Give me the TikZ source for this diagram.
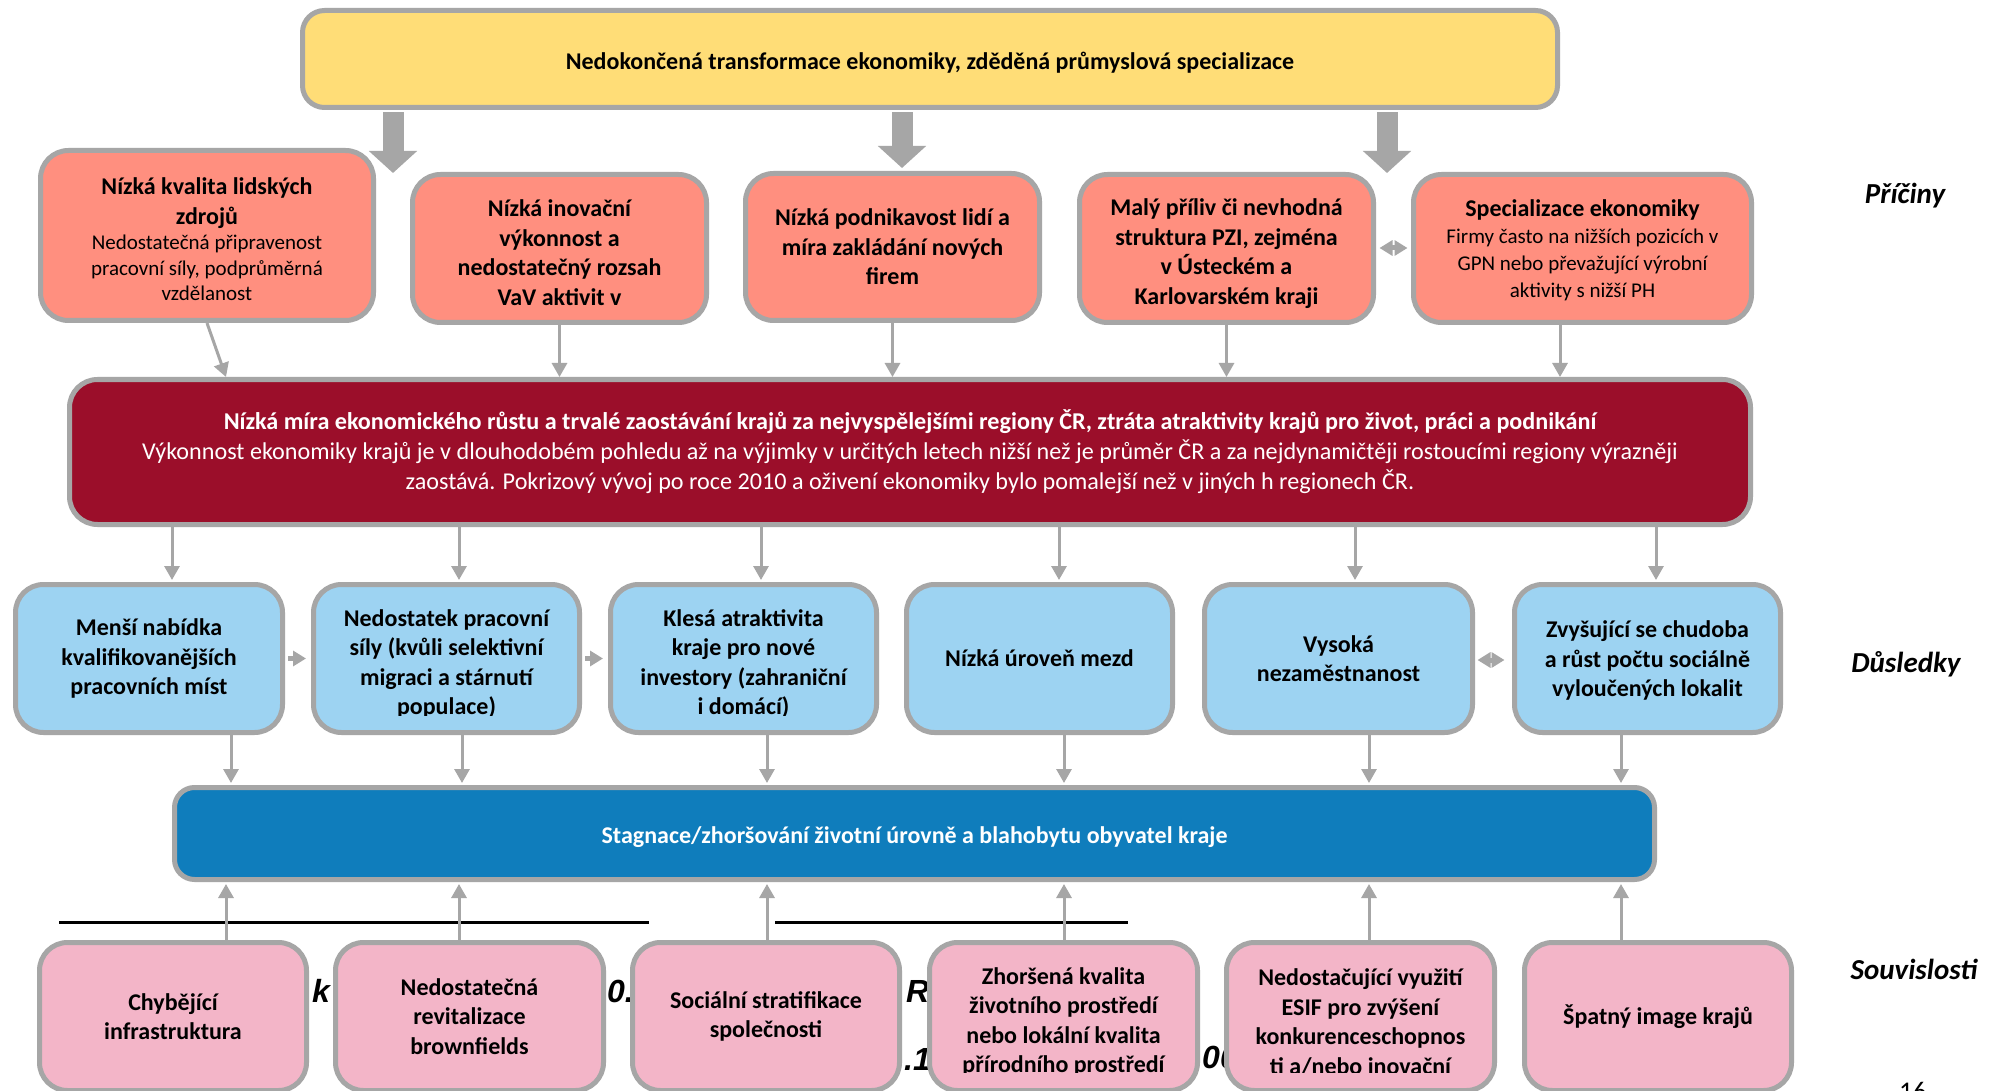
\documentclass[tikz,border=0pt]{standalone}
\usepackage{fontspec}
\setmainfont{Carlito}
\newfontfamily\fragfont{Liberation Sans}
\usetikzlibrary{arrows.meta}
\definecolor{bgray}{RGB}{166,166,166}
\definecolor{cyellow}{RGB}{255,221,119}
\definecolor{csalmon}{RGB}{255,143,127}
\definecolor{cdark}{RGB}{155,14,42}
\definecolor{clblue}{RGB}{157,211,242}
\definecolor{cblue}{RGB}{15,125,188}
\definecolor{cpink}{RGB}{243,181,200}
\newcommand\mybf{\bfseries\fontsize{24}{29.5}\selectfont}
\newcommand\mysm{\fontsize{21}{25.5}\selectfont}
\newcommand\mylab{\bfseries\itshape\fontsize{29}{34}\selectfont}
\newcommand\myfrag{\fragfont\bfseries\itshape\fontsize{32}{36}\selectfont}
\tikzset{
  basebox/.style={draw=bgray, line width=5pt, inner sep=0pt, align=flush center},
  ybox/.style={basebox, fill=cyellow, rounded corners=22pt, font=\mybf},
  rbox/.style={basebox, fill=csalmon, rounded corners=28pt, font=\mybf},
  dbox/.style={basebox, fill=cdark, rounded corners=28pt, text=white},
  lbbox/.style={basebox, fill=clblue, rounded corners=28pt, font=\mybf},
  sbox/.style={basebox, fill=cblue, rounded corners=20pt, text=white, font=\mybf},
  pbox/.style={basebox, fill=cpink, rounded corners=28pt, font=\mybf},
  txt/.style={inner sep=0pt, align=flush center, font=\mybf},
  tarrow/.style={draw=bgray, line width=3pt, -{Triangle[length=14pt,width=15pt]}},
  bigarrow/.style={draw=bgray, line width=21pt, -{Triangle[length=22pt,width=47pt]}, shorten <=2.5pt},
  smallarrow/.style={draw=bgray, line width=5pt, -{Triangle[length=13pt,width=15pt]}},
  dblarrow/.style={draw=bgray, line width=5pt, {Triangle[length=13pt,width=15pt]}-{Triangle[length=13pt,width=15pt]}},
  sidelabel/.style={inner sep=0pt, font=\mylab},
  frag/.style={inner sep=0pt, font=\myfrag, anchor=base west},
}
\begin{document}
\begin{tikzpicture}[x=1pt,y=-1pt]
\useasboundingbox (0,0) rectangle (1998,1091);
\clip (0,0) rectangle (1998,1091);
\fill[white] (0,0) rectangle (1998,1091);

% background fragments
\node[frag] (f1) at (312,1002) {k};
\node[frag] (f2) at (607,1002) {0.};
\node[frag] (f3) at (906,1002) {R};
\node[frag] (f4) at (904,1070) {.1};
\node[frag] (f5) at (1202,1068) {00};
\node[inner sep=0pt, anchor=base west, font=\fontsize{27}{30}\selectfont] (f6) at (1899,1100) {16};

% black lines
\draw[line width=3pt] (59,922) -- (649,922);
\draw[line width=3pt] (775,922) -- (1128,922);

% top
\node[ybox, minimum width=1255pt, minimum height=97pt] (Y) at (930,59) {};
\node[txt] (Yt) at (930,63) {Nedokončená transformace ekonomiky, zděděná průmyslová specializace};

% causes
\node[rbox, minimum width=333pt, minimum height=170pt] (R1) at (207,235.5) {};
\node[txt, text width=320pt] (R1t) at (207,239.5)
  {{\mybf Nízká kvalita lidských\\ zdrojů\par}{\mysm\mdseries Nedostatečná připravenost\\ pracovní síly, podprůměrná\\ vzdělanost\par}};
\node[rbox, minimum width=294pt, minimum height=148pt] (R2) at (559.5,248.5) {};
\node[txt, text width=280pt] (R2t) at (559.5,252.5)
  {Nízká inovační\\ výkonnost a\\ nedostatečný rozsah\\ VaV aktivit v};
\node[rbox, minimum width=294pt, minimum height=147pt, text width=280pt] (R3) at (892.5,247)
  {Nízká podnikavost lidí a\\ míra zakládání nových\\ firem};
\node[rbox, minimum width=294pt, minimum height=148pt] (R4) at (1226.5,248.5) {};
\node[txt, text width=280pt] (R4t) at (1226.5,253.5)
  {Malý příliv či nevhodná\\ struktura PZI, zejména\\ v Ústeckém a\\ Karlovarském kraji};
\node[rbox, minimum width=338pt, minimum height=148pt] (R5) at (1582.5,248.5) {};
\node[txt, text width=325pt] (R5t) at (1582.5,250.5)
  {{\mybf Specializace ekonomiky\par}{\fontsize{21}{27}\selectfont\mdseries Firmy často na nižších pozicích v\\ GPN nebo převažující výrobní\\ aktivity s nižší PH\par}};

% central dark red
\node[dbox, minimum width=1681pt, minimum height=145pt, text width=1660pt] (D) at (910,452)
  {{\bfseries\fontsize{24.15}{30}\selectfont Nízká míra ekonomického růstu a trvalé zaostávání krajů za nejvyspělejšími regiony ČR, ztráta atraktivity krajů pro život, práci a podnikání\par}
   {\fontsize{24.15}{30}\selectfont Výkonnost ekonomiky krajů je v dlouhodobém pohledu až na výjimky v určitých letech nižší než je průměr ČR a za nejdynamičtěji rostoucími regiony výrazněji\\ zaostává. Pokrizový vývoj po roce 2010 a oživení ekonomiky bylo pomalejší než v jiných h regionech ČR.\par}};

% consequences
\node[lbbox, minimum width=267pt, minimum height=148pt, text width=255pt] (B1) at (149,658.5)
  {Menší nabídka\\ kvalifikovanějších\\ pracovních míst};
\node[lbbox, minimum width=266pt, minimum height=148pt] (B2) at (446.5,658.5) {};
\node[lbbox, minimum width=266pt, minimum height=148pt] (B3) at (743.5,658.5) {};
\node[lbbox, minimum width=266pt, minimum height=148pt, text width=255pt] (B4) at (1039.5,658.5)
  {Nízká úroveň mezd};
\node[lbbox, minimum width=268pt, minimum height=148pt, text width=255pt] (B5) at (1338.5,658.5)
  {Vysoká\\ nezaměstnanost};
\node[lbbox, minimum width=266pt, minimum height=148pt] (B6) at (1647.5,658.5) {};
\node[txt, text width=255pt] (B6t) at (1647.5,660.5)
  {Zvyšující se chudoba\\ a růst počtu sociálně\\ vyloučených lokalit};
\begin{scope}
  \clip (311,582) rectangle (582,715);
  \node[txt, text width=255pt] (B2t) at (446.5,664) {Nedostatek pracovní\\ síly (kvůli selektivní\\ migraci a stárnutí\\ populace)};
\end{scope}
\begin{scope}
  \clip (608,582) rectangle (879,715);
  \node[txt, text width=255pt] (B3t) at (743.5,664) {Klesá atraktivita\\ kraje pro nové\\ investory (zahraniční\\ i domácí)};
\end{scope}

% stagnation
\node[sbox, minimum width=1480pt, minimum height=92pt] (S) at (914.5,833.5) {};
\node[txt, text=white] (St) at (914.5,837.5) {Stagnace/zhoršování životní úrovně a blahobytu obyvatel kraje};

% contexts
\node[pbox, minimum width=267pt, minimum height=148pt, text width=255pt] (P1) at (173,1016.5)
  {Chybějící\\ infrastruktura};
\node[pbox, minimum width=268pt, minimum height=148pt, text width=255pt] (P2) at (469.5,1016.5)
  {Nedostatečná\\ revitalizace\\ brownfields};
\node[pbox, minimum width=267pt, minimum height=148pt, text width=255pt] (P3) at (766,1016.5)
  {Sociální stratifikace\\ společnosti};
\node[pbox, minimum width=268pt, minimum height=148pt] (P4) at (1063.5,1016.5) {};
\node[pbox, minimum width=268pt, minimum height=148pt] (P5) at (1360.5,1016.5) {};
\node[pbox, minimum width=267pt, minimum height=148pt, text width=255pt] (P6) at (1658,1016.5)
  {Špatný image krajů};
\begin{scope}
  \clip (927,940) rectangle (1200,1072);
  \node[txt, text width=255pt] (P4t) at (1063.5,1022) {Zhoršená kvalita\\ životního prostředí\\ nebo lokální kvalita\\ přírodního prostředí};
\end{scope}
\begin{scope}
  \clip (1224,940) rectangle (1497,1072);
  \node[txt, text width=255pt] (P5t) at (1360.5,1022) {Nedostačující využití\\ ESIF pro zvýšení\\ konkurenceschopnos\\ ti a/nebo inovační};
\end{scope}

% side labels
\node[sidelabel] (L1) at (1905,196) {Příčiny};
\node[sidelabel] (L2) at (1906,664) {Důsledky};
\node[sidelabel] (L3) at (1914,969) {Souvislosti};

% big arrows from top
\coordinate (t1) at (393,173);
\coordinate (t2) at (902,168);
\coordinate (t3) at (1387,173);
\draw[bigarrow] (Y.south -| t1) -- (t1);
\draw[bigarrow] (Y.south -| t2) -- (t2);
\draw[bigarrow] (Y.south -| t3) -- (t3);

% causes -> central
\coordinate (c1) at (226,377);
\coordinate (c5) at (1560,377);
\draw[tarrow] (R1.south) -- (c1);
\draw[tarrow] (R2.south) -- (R2.south |- D.north);
\draw[tarrow] (R3.south) -- (R3.south |- D.north);
\draw[tarrow] (R4.south) -- (R4.south |- D.north);
\draw[tarrow] (R5.south -| c5) -- (c5);
\draw[dblarrow, shorten <=3.5pt, shorten >=3.5pt] (R4.east |- 0,248) -- (R5.west |- 0,248);

% central -> consequences
\foreach \n/\x in {1/172,2/459,3/761,4/1059,5/1355,6/1656}{
  \coordinate (d\n) at (\x,580);
  \draw[tarrow] (D.south -| d\n) -- (d\n);
}
\draw[smallarrow, shorten <=3pt, shorten >=5pt] (B1.east) -- (B2.west);
\draw[smallarrow, shorten <=3pt, shorten >=5pt] (B2.east) -- (B3.west);
\draw[dblarrow, shorten <=2.5pt, shorten >=7.5pt] (B5.east |- 0,660) -- (B6.west |- 0,660);

% consequences -> stagnation
\foreach \n/\x in {1/231,2/462,3/767,4/1064,5/1369,6/1621}{
  \coordinate (e\n) at (\x,783);
  \draw[tarrow] (B\n.south -| e\n) -- (e\n);
}
% contexts -> stagnation
\foreach \n/\x in {1/226,2/459,3/767,4/1064,5/1369,6/1621}{
  \coordinate (g\n) at (\x,884);
  \draw[tarrow] (P\n.north -| g\n) -- (g\n);
}
\end{tikzpicture}
\end{document}
